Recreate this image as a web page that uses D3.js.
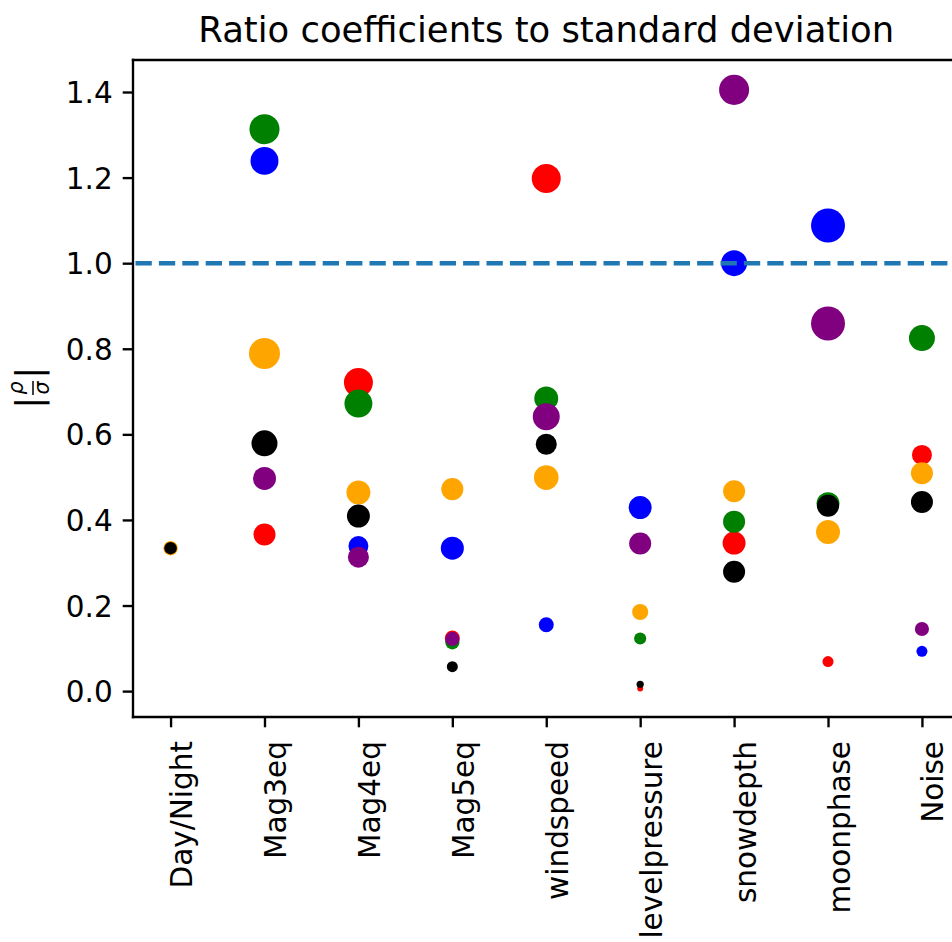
<!DOCTYPE html>
<html>
<head>
<meta charset="utf-8">
<script src="https://cdn.jsdelivr.net/npm/d3@7"></script>
<style>
  html, body { margin: 0; padding: 0; background: #fff; }
  svg { display: block; font-family: "DejaVu Sans", sans-serif; }
</style>
</head>
<body>
<svg id="chart" width="952" height="942"></svg>
<script>
// Predictors on the x axis
const categories = ["Day/Night", "Mag3eq", "Mag4eq", "Mag5eq", "windspeed",
                    "levelpressure", "snowdepth", "moonphase", "Noise"];

// |rho / sigma| for each model, one value per predictor
const redValues    = [0.334, 0.366, 0.721, 0.124, 1.198, 0.006, 0.346, 0.069, 0.552];
const greenValues  = [0.334, 1.313, 0.672, 0.114, 0.684, 0.123, 0.396, 0.438, 0.825];
const blueValues   = [0.334, 1.239, 0.339, 0.334, 0.155, 0.429, 1.000, 1.088, 0.093];
const orangeValues = [0.334, 0.789, 0.464, 0.472, 0.499, 0.185, 0.467, 0.372, 0.509];
const purpleValues = [0.334, 0.497, 0.313, 0.122, 0.641, 0.345, 1.405, 0.859, 0.145];
const blackValues  = [0.334, 0.579, 0.409, 0.057, 0.577, 0.016, 0.279, 0.433, 0.442];

// Marker areas (points^2) for each model, one per predictor
const redSizes    = [11, 56, 97, 26, 97, 4, 61, 14, 46];
const greenSizes  = [11, 104, 90, 23, 66, 17, 56, 61, 78];
const blueSizes   = [11, 90, 46, 61, 26, 61, 78, 133, 14];
const orangeSizes = [24, 111, 66, 56, 70, 30, 56, 66, 56];
const purpleSizes = [11, 61, 51, 23, 84, 56, 104, 133, 23];
const blackSizes  = [18, 78, 61, 14, 51, 6, 56, 56, 56];

const yTicks = [0.0, 0.2, 0.4, 0.6, 0.8, 1.0, 1.2, 1.4];
const referenceLevel = 1.0;

const series = [
  { color: "red",    values: redValues,    sizes: redSizes },
  { color: "green",  values: greenValues,  sizes: greenSizes },
  { color: "blue",   values: blueValues,   sizes: blueSizes },
  { color: "orange", values: orangeValues, sizes: orangeSizes },
  { color: "purple", values: purpleValues, sizes: purpleSizes },
  { color: "black",  values: blackValues,  sizes: blackSizes }
];

const svg = d3.select("#chart");
const plotLeft = 133, plotTop = 60, plotBottom = 717, plotRight = 959.5;
const spineW = 2.36, tickLen = 10.3, fontSize = 29.5;

const x = d3.scalePoint().domain(categories).range([plotLeft, plotRight]).padding(0.4);
const y = d3.scaleLinear().domain([-0.0605, 1.4748]).range([plotBottom, plotTop]);
const r = d3.scaleSqrt().domain([0, 100]).range([0, 14.72]);

// Scatter markers
const pts = [];
series.forEach(s => s.values.forEach((v, i) =>
  pts.push({ cat: categories[i], v, size: s.sizes[i], color: s.color })));

svg.append("g").selectAll("circle").data(pts).join("circle")
  .attr("cx", d => x(d.cat))
  .attr("cy", d => y(d.v))
  .attr("r", d => r(d.size))
  .attr("fill", d => d.color);

// Reference line at |rho/sigma| = 1
svg.append("line")
  .attr("x1", plotLeft).attr("x2", plotRight)
  .attr("y1", y(referenceLevel)).attr("y2", y(referenceLevel))
  .attr("stroke", "#1f77b4").attr("stroke-width", 4.4)
  .attr("stroke-dasharray", "16.3,7.1")
  .attr("stroke-dashoffset", -2.5);

// Axes
const yAxis = svg.append("g")
  .attr("transform", `translate(${plotLeft},0)`)
  .call(d3.axisLeft(y).tickValues(yTicks).tickFormat(d3.format(".1f"))
        .tickSize(tickLen).tickPadding(10));
yAxis.select(".domain").remove();
yAxis.selectAll(".tick line").attr("stroke", "#000").attr("stroke-width", spineW);
yAxis.selectAll(".tick text")
  .attr("font-size", fontSize).attr("font-family", "DejaVu Sans")
  .attr("fill", "#000").attr("dy", "0.36em");

const xAxis = svg.append("g")
  .attr("transform", `translate(0,${plotBottom})`)
  .call(d3.axisBottom(x).tickSize(tickLen));
xAxis.select(".domain").remove();
xAxis.selectAll(".tick line").attr("stroke", "#000").attr("stroke-width", spineW);
xAxis.selectAll(".tick text")
  .attr("font-size", fontSize).attr("font-family", "DejaVu Sans")
  .attr("fill", "#000")
  .attr("text-anchor", "end")
  .attr("x", 0).attr("y", 0).attr("dy", 0)
  .attr("transform", "translate(21,24) rotate(-90)");

// Spines: left, bottom, top
const spines = svg.append("g").attr("stroke", "#000").attr("stroke-width", spineW)
  .attr("stroke-linecap", "square");
spines.append("line").attr("x1", plotLeft).attr("x2", plotLeft).attr("y1", plotTop).attr("y2", plotBottom);
spines.append("line").attr("x1", plotLeft).attr("x2", plotRight).attr("y1", plotBottom).attr("y2", plotBottom);
spines.append("line").attr("x1", plotLeft).attr("x2", plotRight).attr("y1", plotTop).attr("y2", plotTop);

// Title
svg.append("text")
  .attr("x", (plotLeft + plotRight) / 2).attr("y", 42)
  .attr("text-anchor", "middle")
  .attr("font-size", 35.4)
  .text("Ratio coefficients to standard deviation");

// Y label: |rho / sigma|
const yl = svg.append("g").attr("transform", "translate(31,388) rotate(-90)");
yl.append("text").attr("x", -14.7).attr("y", 9.5).attr("text-anchor", "middle")
  .attr("font-size", 36).text("|");
yl.append("text").attr("x", 15.3).attr("y", 9.5).attr("text-anchor", "middle")
  .attr("font-size", 36).text("|");
yl.append("text").attr("x", 0).attr("y", -8).attr("text-anchor", "middle")
  .attr("font-size", 20.6).attr("font-style", "italic").text("ρ");
yl.append("line").attr("x1", -7).attr("x2", 7).attr("y1", 2).attr("y2", 2)
  .attr("stroke", "#000").attr("stroke-width", 1.5);
yl.append("text").attr("x", 0).attr("y", 18).attr("text-anchor", "middle")
  .attr("font-size", 20.6).attr("font-style", "italic").text("σ");
</script>
</body>
</html>
